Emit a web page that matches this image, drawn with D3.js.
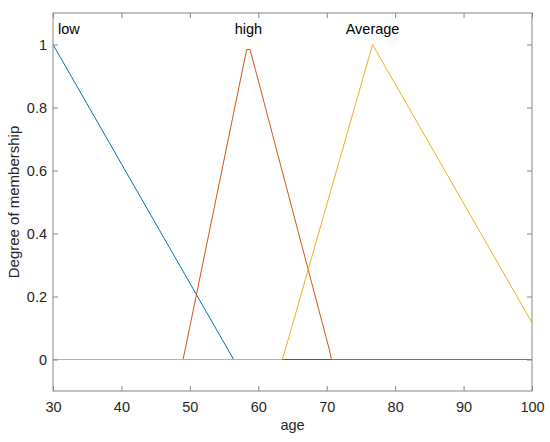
<!DOCTYPE html>
<html>
<head>
<meta charset="utf-8">
<script src="https://cdn.jsdelivr.net/npm/d3@7"></script>
<style>
  body { margin: 0; background: #fff; }
  text { font-family: "Liberation Sans", Arial, sans-serif; }
</style>
</head>
<body>
<div id="the_chart"></div>
<script>
// membership functions
var lowPts = [[30, 1], [56.4, 0], [100, 0]];
var highPts = [[30, 0], [49.0, 0], [49.3, 0.03], [58.3, 0.984], [58.8, 0.984], [70.4, 0.03], [70.7, 0], [100, 0]];
var avgPts = [[30, 0], [63.5, 0], [63.8, 0.02], [76.7, 1], [100, 0.117]];

var mfNames = ["low", "high", "Average"];
var mfLabelX = [30, 58.55, 76.7];
var mfColors = ["#0072BD", "#D95319", "#EDB120"];

var xTicks = [30, 40, 50, 60, 70, 80, 90, 100];
var yTicks = [0, 0.2, 0.4, 0.6, 0.8, 1];

var w = 550, h = 442;
// plot box (note: "top" is taken by window.top)
var boxL = 53, boxR = 532, boxT = 13, boxB = 391;

var svg = d3.select("#the_chart")
  .append("svg")
  .attr("width", w)
  .attr("height", h);

var xscale = d3.scaleLinear()
  .domain([30, 100])
  .range([boxL, boxR]);

var yscale = d3.scaleLinear()
  .domain([-0.1, 1.1])
  .range([boxB, boxT]);

var axisColor = "#868686";
var textColor = "#262626";

// lines
var line = d3.line()
  .x(function (d) { return xscale(d[0]); })
  .y(function (d) { return yscale(d[1]); });

[lowPts, highPts, avgPts].forEach(function (pts, i) {
  svg.append("path")
    .attr("d", line(pts))
    .attr("fill", "none")
    .attr("stroke", mfColors[i])
    .attr("stroke-width", 1);
});

// axes (ticks pointing in, box all round)
function styleAxis(g) {
  g.select(".domain").remove();
  g.selectAll(".tick line").attr("stroke", axisColor);
  g.selectAll(".tick text")
    .attr("fill", textColor)
    .attr("font-size", "14.5px");
}

svg.append("g")
  .attr("transform", "translate(0," + boxB + ")")
  .call(d3.axisBottom(xscale).tickValues(xTicks).tickSize(-5).tickPadding(11))
  .call(styleAxis);

svg.append("g")
  .attr("transform", "translate(0," + boxT + ")")
  .call(d3.axisTop(xscale).tickValues(xTicks).tickSize(-5).tickFormat(""))
  .call(styleAxis);

svg.append("g")
  .attr("transform", "translate(" + boxL + ",0)")
  .call(d3.axisLeft(yscale).tickValues(yTicks).tickSize(-5).tickPadding(6)
    .tickFormat(function (d) { return String(+d.toFixed(1)); }))
  .call(styleAxis);

svg.append("g")
  .attr("transform", "translate(" + boxR + ",0)")
  .call(d3.axisRight(yscale).tickValues(yTicks).tickSize(-5).tickFormat(""))
  .call(styleAxis);

svg.append("rect")
  .attr("x", boxL)
  .attr("y", boxT)
  .attr("width", boxR - boxL)
  .attr("height", boxB - boxT)
  .attr("fill", "none")
  .attr("stroke", axisColor)
  .attr("stroke-width", 1);

// mf labels
svg.selectAll(".mflabel")
  .data(mfNames)
  .enter().append("text")
  .attr("class", "mflabel")
  .attr("x", function (d, i) { return i == 0 ? xscale(mfLabelX[i]) + 5 : xscale(mfLabelX[i]); })
  .attr("y", 34)
  .attr("text-anchor", function (d, i) { return i == 0 ? "start" : "middle"; })
  .attr("font-size", "14.5px")
  .attr("fill", "#000")
  .text(function (d) { return d; });

// axis titles
svg.append("text")
  .attr("x", (boxL + boxR) / 2)
  .attr("y", 430)
  .attr("text-anchor", "middle")
  .attr("font-size", "14.5px")
  .attr("fill", textColor)
  .text("age");

svg.append("text")
  .attr("transform", "translate(19," + ((boxT + boxB) / 2) + ") rotate(-90)")
  .attr("text-anchor", "middle")
  .attr("font-size", "15px")
  .attr("fill", textColor)
  .text("Degree of membership");
</script>
</body>
</html>
